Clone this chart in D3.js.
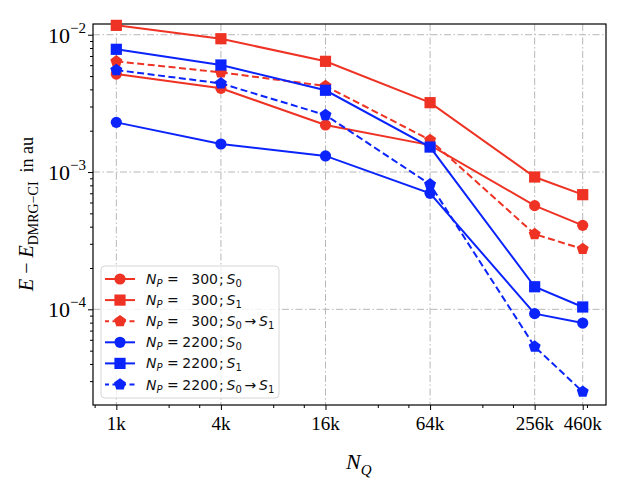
<!DOCTYPE html>
<html>
<head>
<meta charset="utf-8">
<script src="https://cdn.jsdelivr.net/npm/d3@7"></script>
<style>
  body { margin: 0; background: #fff; }
  svg { display: block; }
  .serif { font-family: "Liberation Serif", "Times New Roman", serif; }
  .leg { font-family: "DejaVu Sans", sans-serif; }
</style>
</head>
<body>
<div id="chart"></div>
<script>
// N_Q grid (in thousands); the last point sits a bit above 460k on the plot
var nq = [1, 4, 16, 64, 256, 484];
var nqLabels = ["1k", "4k", "16k", "64k", "256k", "460k"];
var nqMinor = [0.75, 2, 3, 8, 12, 32, 48, 128, 192, 512];

// energy errors (au)
var np300S0   = [5.17e-3, 4.07e-3, 2.20e-3, 1.57e-3, 5.69e-4, 4.09e-4];
var np300S1   = [1.17e-2, 9.35e-3, 6.40e-3, 3.20e-3, 9.20e-4, 6.84e-4];
var np300Exc  = [6.40e-3, 5.32e-3, 4.23e-3, 1.71e-3, 3.53e-4, 2.75e-4];
var np2200S0  = [2.30e-3, 1.60e-3, 1.31e-3, 7.00e-4, 9.30e-5, 7.94e-5];
var np2200S1  = [7.83e-3, 6.02e-3, 3.94e-3, 1.52e-3, 1.46e-4, 1.04e-4];
var np2200Exc = [5.53e-3, 4.42e-3, 2.60e-3, 8.13e-4, 5.35e-5, 2.51e-5];

var yMajor = [1e-4, 1e-3, 1e-2];
var yExp = ["\u22124", "\u22123", "\u22122"];

var red = "#ee3224", blue = "#0b24fb";

var series = [
  { values: np300S0,   color: red,  marker: "circle",   dash: null, np: "300",  state: "S0" },
  { values: np300S1,   color: red,  marker: "square",   dash: null, np: "300",  state: "S1" },
  { values: np300Exc,  color: red,  marker: "pentagon", dash: "7,3.5", np: "300",  state: "exc" },
  { values: np2200S0,  color: blue, marker: "circle",   dash: null, np: "2200", state: "S0" },
  { values: np2200S1,  color: blue, marker: "square",   dash: null, np: "2200", state: "S1" },
  { values: np2200Exc, color: blue, marker: "pentagon", dash: "7,3.5", np: "2200", state: "exc" }
];

var W = 628, H = 489;
var margin = { top: 24, right: 22, bottom: 84, left: 93 };
var width = W - margin.left - margin.right;
var height = H - margin.top - margin.bottom;

var svg = d3.select("#chart").append("svg")
  .attr("width", W)
  .attr("height", H);

var g = svg.append("g")
  .attr("transform", "translate(" + margin.left + "," + margin.top + ")");

var x = d3.scaleLog().base(4)
  .domain([0.734, 659])
  .range([0, width]);

var y = d3.scaleLog()
  .domain([2.01e-5, 1.197e-2])
  .range([height, 0]);

// grid
var gridStyle = function(sel) {
  sel.attr("stroke", "#b8b8b8")
    .attr("stroke-width", 1)
    .attr("stroke-dasharray", "7,2.5,1.5,2.5")
    .attr("fill", "none");
};
g.selectAll(".gx").data(nq).enter().append("line")
  .attr("x1", d => x(d)).attr("x2", d => x(d))
  .attr("y1", 0).attr("y2", height)
  .call(gridStyle);
g.selectAll(".gy").data(yMajor).enter().append("line")
  .attr("x1", 0).attr("x2", width)
  .attr("y1", d => y(d)).attr("y2", d => y(d))
  .call(gridStyle);

// x axis
var xAxis = g.append("g")
  .attr("transform", "translate(0," + height + ")");
xAxis.call(d3.axisBottom(x).tickValues(nq).tickFormat("").tickSize(5).tickSizeOuter(0));
xAxis.append("g").call(d3.axisBottom(x).tickValues(nqMinor).tickFormat("").tickSize(3).tickSizeOuter(0));
xAxis.selectAll(".domain").remove();
xAxis.selectAll("line").attr("stroke", "#000").attr("stroke-width", 1);

g.append("g").selectAll("text").data(nq).enter().append("text")
  .attr("class", "serif")
  .attr("x", d => x(d))
  .attr("y", height + 25)
  .attr("text-anchor", "middle")
  .style("font-size", "19px")
  .attr("fill", "#000")
  .text((d, i) => nqLabels[i]);

// y axis
var yMinor = [];
[-5, -4, -3].forEach(function(e) {
  for (var k = 2; k <= 9; k++) yMinor.push(k * Math.pow(10, e));
});
yMinor = yMinor.filter(v => v >= y.domain()[0] && v <= y.domain()[1]);

var yAxis = g.append("g");
yAxis.call(d3.axisLeft(y).tickValues(yMajor).tickFormat("").tickSize(5).tickSizeOuter(0));
yAxis.append("g").call(d3.axisLeft(y).tickValues(yMinor).tickFormat("").tickSize(3).tickSizeOuter(0));
yAxis.selectAll(".domain").remove();
yAxis.selectAll("line").attr("stroke", "#000").attr("stroke-width", 1);

var ylab = g.append("g").selectAll("text").data(yMajor).enter().append("text")
  .attr("class", "serif")
  .attr("x", -7)
  .attr("y", d => y(d) + 8)
  .attr("text-anchor", "end")
  .style("font-size", "22px")
  .attr("fill", "#000");
ylab.append("tspan").text("10");
ylab.append("tspan").attr("dy", -10).style("font-size", "15px").text((d, i) => yExp[i]);

// frame
g.append("rect")
  .attr("width", width).attr("height", height)
  .attr("fill", "none").attr("stroke", "#000").attr("stroke-width", 1.2);

// markers
function pentagon(r) {
  var pts = [];
  for (var i = 0; i < 5; i++) {
    var a = -Math.PI / 2 + i * 2 * Math.PI / 5;
    pts.push([r * Math.cos(a), r * Math.sin(a)]);
  }
  return "M" + pts.join("L") + "Z";
}
function drawMarker(sel, type, color) {
  if (type === "circle") {
    sel.append("circle").attr("r", 5.6).attr("fill", color);
  } else if (type === "square") {
    sel.append("rect").attr("x", -5.6).attr("y", -5.6)
      .attr("width", 11.2).attr("height", 11.2).attr("fill", color);
  } else {
    sel.append("path").attr("d", pentagon(6.3)).attr("fill", color);
  }
}

var line = d3.line()
  .x((d, i) => x(nq[i]))
  .y(d => y(d));

series.forEach(function(s) {
  var sg = g.append("g");
  sg.append("path")
    .datum(s.values)
    .attr("d", line)
    .attr("fill", "none")
    .attr("stroke", s.color)
    .attr("stroke-width", 2)
    .attr("stroke-dasharray", s.dash);
  s.values.forEach(function(v, i) {
    var m = sg.append("g").attr("transform", "translate(" + x(nq[i]) + "," + y(v) + ")");
    drawMarker(m, s.marker, s.color);
  });
});

// axis labels
svg.append("text")
  .attr("class", "serif")
  .attr("x", 346)
  .attr("y", 469)
  .style("font-style", "italic")
  .style("font-size", "22px")
  .attr("fill", "#000")
  .text("N")
  .append("tspan")
  .attr("dy", 6)
  .style("font-size", "15px")
  .text("Q");

var yt = svg.append("text")
  .attr("class", "serif")
  .attr("transform", "translate(33,214) rotate(-90)")
  .attr("text-anchor", "middle")
  .style("font-size", "20px")
  .attr("fill", "#000");
yt.append("tspan").style("font-style", "italic").text("E");
yt.append("tspan").text(" \u2212 ");
yt.append("tspan").style("font-style", "italic").text("E");
yt.append("tspan").attr("dy", 5).style("font-size", "14px").text("DMRG\u2212CI");
yt.append("tspan").attr("dy", -5).style("font-size", "18px").text("\u00a0\u00a0in au");

// legend
var lg = svg.append("g").attr("transform", "translate(101,266)");
lg.append("rect")
  .attr("width", 178).attr("height", 132).attr("rx", 4)
  .attr("fill", "#fff").attr("fill-opacity", 0.8)
  .attr("stroke", "#d6d6d6").attr("stroke-width", 1);

var rowY = d3.range(series.length).map(i => 13 + i * 21.1);

series.forEach(function(s, i) {
  var row = lg.append("g").attr("transform", "translate(0," + rowY[i] + ")");
  row.append("line")
    .attr("x1", 4).attr("x2", 34)
    .attr("stroke", s.color).attr("stroke-width", 2)
    .attr("stroke-dasharray", s.dash ? "5,3.5" : null)
    .attr("stroke-dashoffset", s.dash ? 1 : null);
  var m = row.append("g").attr("transform", "translate(19,0)");
  drawMarker(m, s.marker, s.color);

  var t = row.append("text").attr("class", "leg")
    .attr("x", 45).attr("y", 5)
    .style("font-size", "14px").attr("fill", "#111");
  t.append("tspan").style("font-style", "italic").text("N");
  t.append("tspan").style("font-style", "italic").style("font-size", "10px").attr("dy", 3).text("P");
  t.append("tspan").attr("dy", -3).text(" =");

  row.append("text").attr("class", "leg")
    .attr("x", 117).attr("y", 5).attr("text-anchor", "end")
    .style("font-size", "14px").attr("fill", "#111")
    .text(s.np);

  var t2 = row.append("text").attr("class", "leg")
    .attr("x", 118).attr("y", 5)
    .style("font-size", "14px").attr("fill", "#111");
  t2.append("tspan").text(";\u2009");
  t2.append("tspan").style("font-style", "italic").text("S");
  if (s.state === "exc") {
    t2.append("tspan").style("font-size", "10px").attr("dy", 3).text("0");
    t2.append("tspan").attr("dy", -3).text("\u2009\u2192\u2009");
    t2.append("tspan").style("font-style", "italic").text("S");
    t2.append("tspan").style("font-size", "10px").attr("dy", 3).text("1");
  } else {
    t2.append("tspan").style("font-size", "10px").attr("dy", 3).text(s.state === "S0" ? "0" : "1");
  }
});
</script>
</body>
</html>
